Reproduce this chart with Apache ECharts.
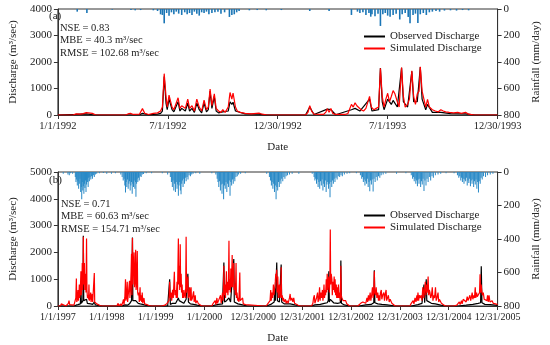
<!DOCTYPE html>
<html>
<head>
<meta charset="utf-8">
<script src="https://cdn.jsdelivr.net/npm/echarts@6/dist/echarts.min.js"></script>
<style>html,body{margin:0;padding:0;background:#fff}#c{width:550px;height:345px}</style>
</head>
<body>
<div id="c"></div>
<script>
// ---------- tick labels ----------
const topTickLabels = ['1/1/1992','7/1/1992','12/30/1992','7/1/1993','12/30/1993'];
const bottomTickLabels = ['1/1/1997','1/1/1998','1/1/1999','1/1/2000','12/31/2000','12/31/2001','12/31/2002','12/31/2003','12/31/2004','12/31/2005'];

// ---------- panel (a): 1992-1993, [day since 1/1/1992, value] ----------
const simA = [[0,0],[25,0],[30,40],[33,70],[37,30],[42,50],[47,90],[50,40],[57,60],[62,10],[70,0],[112,0],[116,40],[120,60],[125,20],[135,30],[140,240],[144,60],[150,20],[158,60],[165,80],[170,150],[173,300],[176,1560],[179,700],[181,300],[184,750],[186,700],[189,300],[192,200],[195,150],[199,650],[202,250],[205,350],[208,300],[211,250],[215,600],[218,250],[222,350],[226,150],[230,600],[234,300],[238,150],[242,560],[246,200],[249,300],[252,980],[255,350],[259,800],[262,250],[266,150],[270,100],[273,200],[277,100],[282,300],[285,850],[288,600],[290,830],[294,300],[297,150],[302,100],[310,60],[320,40],[333,70],[338,30],[345,10],[360,0],
[375,0],[377,30],[380,0],[410,0],[414,100],[417,350],[420,150],[424,30],[440,20],[444,120],[446,240],[449,100],[452,250],[455,60],[460,20],[475,20],[480,50],[486,400],[489,300],[492,460],[495,350],[498,300],[502,200],[506,150],[510,250],[513,200],[516,700],[519,300],[523,200],[527,250],[531,300],[534,1760],[537,700],[540,300],[543,600],[546,820],[549,500],[552,700],[555,920],[558,800],[562,500],[565,300],[569,1790],[572,700],[575,300],[579,400],[582,600],[586,1670],[589,700],[592,400],[595,800],[598,900],[600,1820],[603,900],[606,600],[609,300],[612,590],[615,300],[620,200],[625,150],[630,120],[634,200],[638,150],[642,120],[648,100],[655,80],[662,100],[668,60],[675,100],[680,30],[690,0],[728,0]];
const obsA = [[0,0],[30,20],[47,40],[60,0],[135,10],[140,60],[150,10],[165,30],[170,60],[173,150],[176,1450],[179,450],[181,200],[184,600],[186,550],[189,200],[192,120],[199,500],[202,150],[205,250],[208,200],[211,150],[215,450],[218,150],[222,250],[226,100],[230,450],[234,200],[238,80],[242,450],[246,120],[249,200],[252,900],[255,250],[259,700],[262,150],[266,80],[273,120],[282,150],[285,500],[288,400],[290,480],[294,150],[297,80],[310,40],[333,30],[345,0],
[410,0],[417,300],[424,20],[446,220],[452,200],[460,10],[486,200],[492,250],[500,150],[516,600],[520,150],[531,200],[534,1770],[537,500],[540,200],[546,600],[552,400],[555,550],[562,300],[569,1780],[572,500],[579,300],[586,1650],[589,500],[595,500],[600,1810],[603,600],[609,200],[612,400],[620,100],[634,100],[650,50],[675,40],[690,0],[728,0]];
const rainA = [[32,20],[48,30],[90,5],[121,8],[128,10],[137,8],[158,10],[165,15],[170,40],[173,45],[176,108],[180,30],[184,50],[188,25],[192,40],[196,20],[200,35],[205,45],[210,25],[214,40],[218,30],[222,45],[226,20],[230,35],[234,50],[238,25],[242,30],[246,20],[250,40],[255,30],[260,25],[265,20],[270,35],[276,25],[284,60],[288,45],[292,40],[296,25],[300,15],[317,10],[330,8],[345,10],[370,8],
[417,15],[449,15],[486,45],[496,20],[500,30],[505,25],[510,45],[515,30],[518,58],[520,40],[525,55],[530,35],[534,128],[538,40],[542,30],[546,50],[550,58],[555,45],[560,35],[566,79],[570,40],[575,30],[580,60],[583,108],[588,45],[592,35],[596,106],[600,40],[605,30],[610,45],[615,25],[620,20],[626,15],[632,20],[640,12],[650,10],[660,12],[670,8],[680,10]];

// ---------- panel (b): 1997-2005, [day since 1/1/1997, value] ----------
const simB = [[0,0],[20,0],[25,80],[30,20],[60,0],[78,100],[83,200],[88,50],[100,20],[120,30],[130,80],[134,300],[138,1030],[141,150],[146,300],[150,600],[153,200],[157,400],[160,800],[163,300],[167,500],[172,1300],[175,400],[179,700],[182,1600],[185,600],[188,900],[190,2580],[193,800],[196,1100],[198,1600],[201,600],[204,900],[207,1200],[210,500],[214,2520],[217,600],[221,300],[225,400],[229,250],[232,800],[235,200],[240,300],[245,500],[248,150],[252,300],[256,450],[260,150],[266,200],[272,1230],[275,150],[280,100],[290,80],[300,50],[315,20],[330,0],
[400,0],[410,60],[415,0],[440,0],[450,100],[455,0],[470,80],[475,0],[485,150],[490,250],[494,50],[500,330],[505,1000],[508,200],[512,300],[518,900],[521,150],[525,100],[530,200],[535,940],[538,300],[542,600],[547,1300],[550,1950],[553,400],[557,2540],[560,800],[564,1500],[569,2000],[572,700],[576,900],[581,2100],[584,600],[588,800],[593,2050],[596,500],[600,400],[605,500],[608,150],[614,700],[617,200],[622,400],[626,150],[630,500],[634,100],[638,200],[643,300],[648,80],[655,100],[665,50],[680,20],[700,0],
[760,0],[770,50],[775,0],[800,30],[815,100],[820,30],[830,200],[835,900],[838,300],[845,500],[850,200],[857,600],[862,300],[870,1280],[874,400],[880,600],[884,300],[890,900],[893,300],[900,2520],[903,800],[907,1500],[910,600],[914,2300],[917,700],[921,1200],[924,500],[928,800],[932,300],[936,600],[940,300],[945,400],[950,600],[954,300],[958,2580],[961,500],[966,800],[971,1100],[974,300],[980,400],[984,700],[988,200],[995,700],[998,200],[1005,300],[1014,550],[1018,150],[1026,400],[1030,100],[1040,200],[1050,80],[1060,50],[1075,0],
[1130,0],[1140,50],[1150,0],[1160,100],[1165,30],[1175,200],[1180,50],[1188,300],[1192,100],[1200,200],[1210,150],[1215,400],[1220,100],[1225,300],[1230,500],[1235,200],[1240,1500],[1243,400],[1248,800],[1252,300],[1259,1300],[1262,500],[1266,900],[1270,400],[1274,700],[1278,2430],[1281,600],[1285,1000],[1288,500],[1292,1400],[1295,700],[1298,1000],[1302,1900],[1305,700],[1309,1200],[1314,1600],[1317,600],[1322,800],[1326,400],[1331,1600],[1334,300],[1338,500],[1343,200],[1347,300],[1352,150],[1359,1250],[1362,200],[1368,250],[1375,150],[1380,300],[1385,80],[1395,100],[1402,50],[1415,0],
[1540,0],[1550,60],[1556,0],[1570,100],[1575,30],[1585,200],[1590,600],[1594,200],[1600,500],[1605,300],[1610,800],[1614,400],[1619,600],[1624,900],[1628,1200],[1631,1100],[1635,1350],[1638,500],[1643,1100],[1647,300],[1652,700],[1655,800],[1660,300],[1665,500],[1668,1450],[1671,300],[1676,400],[1680,200],[1685,300],[1690,150],[1700,250],[1705,100],[1712,200],[1720,100],[1730,300],[1735,450],[1740,200],[1748,300],[1755,150],[1762,300],[1768,100],[1775,150],[1782,80],[1795,30],[1810,0],
[1880,0],[1890,50],[1895,0],[1905,100],[1910,300],[1916,400],[1920,100],[1926,200],[1932,300],[1940,500],[1944,150],[1950,300],[1955,700],[1959,200],[1964,500],[1970,300],[1976,600],[1980,200],[1984,400],[1988,800],[1992,300],[1996,600],[2000,400],[2005,1000],[2008,500],[2012,1200],[2016,600],[2020,900],[2024,1100],[2028,500],[2032,1000],[2035,2850],[2038,800],[2042,1200],[2047,1000],[2050,400],[2055,900],[2059,600],[2064,1100],[2068,500],[2071,1000],[2075,400],[2080,800],[2083,300],[2088,700],[2092,300],[2096,800],[2100,300],[2105,500],[2110,200],[2114,1500],[2117,400],[2122,300],[2131,200],[2140,150],[2150,200],[2158,80],[2166,50],[2180,0],
[2240,0],[2250,50],[2262,100],[2270,50],[2278,150],[2285,100],[2292,200],[2300,100],[2309,300],[2314,150],[2320,400],[2325,200],[2333,500],[2338,200],[2344,400],[2350,700],[2355,300],[2360,600],[2364,1300],[2367,500],[2372,400],[2378,700],[2383,300],[2390,500],[2395,200],[2400,400],[2405,200],[2410,500],[2416,600],[2420,250],[2426,400],[2435,500],[2440,200],[2446,450],[2452,600],[2456,200],[2462,300],[2469,400],[2475,150],[2482,250],[2488,200],[2495,100],[2505,50],[2520,0],
[2630,0],[2640,100],[2645,30],[2654,200],[2660,80],[2668,300],[2675,150],[2682,400],[2686,200],[2690,500],[2695,200],[2700,400],[2706,300],[2714,400],[2720,200],[2726,700],[2730,600],[2734,300],[2740,600],[2745,900],[2750,400],[2754,800],[2759,500],[2766,1100],[2770,400],[2775,600],[2780,500],[2785,300],[2791,400],[2797,700],[2802,200],[2808,400],[2814,300],[2821,700],[2826,200],[2832,300],[2840,500],[2845,150],[2850,250],[2857,200],[2865,100],[2880,50],[2895,0],
[2960,0],[2970,60],[2980,30],[2990,100],[2999,150],[3005,50],[3015,200],[3020,80],[3028,250],[3035,200],[3042,300],[3050,150],[3058,350],[3064,200],[3071,300],[3078,400],[3084,200],[3090,350],[3095,500],[3100,250],[3106,400],[3112,300],[3118,700],[3122,300],[3128,500],[3133,350],[3137,400],[3143,300],[3150,500],[3154,1180],[3158,500],[3162,800],[3166,600],[3171,400],[3178,500],[3185,250],[3190,300],[3197,300],[3205,200],[3210,400],[3215,150],[3221,400],[3228,150],[3235,200],[3244,200],[3252,100],[3261,150],[3270,80],[3285,50]];
const obsB = [[0,0],[120,0],[135,30],[140,80],[150,50],[160,100],[168,80],[172,850],[175,100],[182,150],[187,200],[190,2620],[193,200],[200,150],[207,200],[214,250],[220,100],[232,120],[245,80],[260,60],[272,150],[280,40],[300,20],[330,0],
[480,0],[500,40],[520,30],[535,80],[545,120],[550,200],[557,2560],[560,200],[570,250],[581,200],[593,200],[600,100],[615,80],[640,50],[660,20],[700,0],
[820,0],[830,40],[835,1000],[840,60],[857,100],[870,150],[880,100],[900,300],[906,200],[920,150],[940,100],[958,250],[971,1200],[975,150],[990,80],[1014,60],[1040,30],[1075,0],
[1150,0],[1180,40],[1200,60],[1230,80],[1240,1620],[1245,150],[1260,200],[1278,300],[1290,150],[1302,200],[1314,1750],[1318,150],[1331,200],[1345,80],[1359,120],[1380,40],[1415,0],
[1560,0],[1590,60],[1616,150],[1620,650],[1625,200],[1635,1620],[1640,200],[1655,150],[1668,1550],[1672,150],[1690,80],[1735,80],[1770,40],[1810,0],
[1890,0],[1920,40],[1960,60],[1990,100],[2012,120],[2020,200],[2024,1300],[2028,150],[2035,250],[2060,120],[2090,100],[2110,120],[2114,1700],[2118,100],[2140,40],[2180,0],
[2250,0],[2300,40],[2340,60],[2360,120],[2364,1330],[2368,120],[2390,80],[2420,60],[2460,40],[2520,0],
[2640,0],[2690,50],[2720,100],[2735,800],[2740,120],[2752,1000],[2756,200],[2766,200],[2790,100],[2820,80],[2860,30],[2895,0],
[2990,0],[3050,30],[3100,60],[3140,100],[3158,120],[3163,1480],[3168,120],[3190,60],[3230,50],[3285,20]];
const rainB = [[40,10],[75,15],[85,20],[95,8],[110,10],[130,30],[135,60],[140,45],[145,80],[150,55],[155,100],[160,70],[165,40],[170,120],[175,90],[178,162],[182,60],[186,110],[190,85],[194,130],[198,70],[202,95],[206,50],[210,120],[214,75],[218,40],[222,60],[226,90],[230,35],[235,55],[240,30],[246,45],[252,25],[258,40],[265,20],[272,30],[280,15],[290,10],[310,8],[340,6],[365,10],
[400,10],[430,8],[470,15],[480,30],[488,50],[495,40],[500,80],[505,123],[510,60],[515,90],[520,45],[525,100],[530,70],[535,55],[540,110],[545,80],[550,60],[555,130],[560,70],[565,90],[570,50],[575,100],[580,60],[583,148],[588,70],[592,40],[597,60],[602,35],[608,50],[615,25],[622,30],[630,15],[640,12],[660,8],[700,8],
[780,8],[820,15],[840,30],[848,60],[855,90],[860,50],[866,110],[872,70],[878,120],[884,60],[890,100],[895,75],[900,142],[905,80],[910,60],[915,110],[920,133],[925,70],[930,50],[935,90],[940,40],[946,70],[952,35],[958,55],[965,30],[972,45],[980,20],[990,25],[1000,15],[1010,10],[1030,8],[1060,10],
[1150,8],[1180,15],[1190,40],[1196,60],[1202,90],[1208,55],[1214,110],[1220,75],[1226,130],[1232,70],[1238,162],[1244,80],[1250,100],[1256,60],[1262,120],[1268,70],[1274,90],[1280,50],[1286,142],[1292,60],[1298,80],[1304,45],[1310,70],[1316,40],[1322,55],[1330,30],[1340,25],[1350,15],[1365,10],[1400,8],
[1560,10],[1580,30],[1588,50],[1595,80],[1600,60],[1606,100],[1612,70],[1618,120],[1624,80],[1630,162],[1636,90],[1642,110],[1648,60],[1654,90],[1660,50],[1666,70],[1672,40],[1680,55],[1688,30],[1696,40],[1705,25],[1715,20],[1730,15],[1750,10],[1800,10],
[1900,10],[1914,30],[1920,50],[1926,40],[1932,70],[1938,45],[1944,90],[1950,60],[1956,100],[1962,55],[1968,80],[1974,45],[1980,110],[1986,70],[1992,90],[1998,50],[2004,120],[2010,75],[2016,60],[2022,100],[2028,70],[2033,150],[2040,60],[2046,90],[2052,50],[2058,70],[2064,40],[2070,60],[2078,35],[2086,45],[2095,25],[2105,30],[2115,20],[2125,25],[2140,15],[2160,10],[2180,8],
[2230,8],[2260,20],[2270,40],[2276,30],[2282,60],[2288,45],[2294,80],[2300,55],[2306,70],[2312,40],[2318,90],[2324,60],[2330,115],[2336,50],[2342,75],[2348,45],[2355,117],[2362,40],[2370,60],[2378,30],[2386,50],[2395,25],[2405,35],[2415,20],[2430,15],[2450,10],[2530,10],
[2600,8],[2640,20],[2650,40],[2656,30],[2662,55],[2668,40],[2674,70],[2680,50],[2686,85],[2692,45],[2698,70],[2704,40],[2710,90],[2716,55],[2722,75],[2728,40],[2735,113],[2742,50],[2750,80],[2758,40],[2766,60],[2775,30],[2785,50],[2795,25],[2805,35],[2820,20],[2840,15],[2860,10],[2900,8],
[2960,8],[2985,20],[2995,35],[3002,25],[3010,50],[3016,35],[3022,60],[3028,40],[3034,70],[3040,45],[3046,55],[3052,35],[3058,80],[3064,50],[3070,65],[3076,40],[3082,85],[3088,50],[3094,70],[3100,45],[3106,90],[3112,55],[3118,75],[3124,45],[3130,100],[3136,60],[3142,123],[3148,55],[3155,70],[3162,35],[3170,45],[3180,25],[3195,30],[3210,20],[3230,15],[3250,10]];

const statsA = ['NSE = 0.83','MBE = 40.3 m³/sec','RMSE = 102.68 m³/sec'];
const statsB = ['NSE = 0.71','MBE = 60.63 m³/sec','RMSE = 154.71 m³/sec'];

// ---------- chart ----------
const FONT = '"Liberation Serif", "Times New Roman", serif';
const TXT = '#222';
const AX = '#333';

function xAx(grid, max, interval, labels, fs){
  return {
    type:'value', gridIndex:grid, min:0, max:max, interval:interval,
    name:'Date', nameLocation:'middle', nameGap:27,
    nameTextStyle:{fontFamily:FONT,fontSize:11,color:TXT},
    axisLine:{lineStyle:{color:AX}}, axisTick:{length:4,lineStyle:{color:AX}},
    splitLine:{show:false},
    axisLabel:{fontFamily:FONT,fontSize:fs,color:TXT,margin:6,showMinLabel:true,showMaxLabel:true,
      formatter:v=>{const i=Math.round(v/interval);return labels[i]||'';}}
  };
}
function yLeft(grid, max){
  return {
    type:'value', gridIndex:grid, min:0, max:max, interval:1000, position:'left',
    name:'Discharge (m³/sec)', nameLocation:'middle', nameGap:31, nameRotate:90,
    nameTextStyle:{fontFamily:FONT,fontSize:11,color:TXT},
    axisLine:{show:true,lineStyle:{color:AX}}, axisTick:{show:true,length:4,lineStyle:{color:AX}},
    splitLine:{show:false},
    axisLabel:{fontFamily:FONT,fontSize:11,color:TXT,margin:6,formatter:v=>String(v)}
  };
}
function yRight(grid){
  return {
    type:'value', gridIndex:grid, min:0, max:800, interval:200, position:'right', inverse:true,
    name:'Rainfall (mm/day)', nameLocation:'middle', nameGap:33, nameRotate:90,
    nameTextStyle:{fontFamily:FONT,fontSize:11,color:TXT},
    axisLine:{show:true,lineStyle:{color:AX}}, axisTick:{show:true,length:4,lineStyle:{color:AX}},
    splitLine:{show:false},
    axisLabel:{fontFamily:FONT,fontSize:11,color:TXT,margin:6,formatter:v=>String(v)}
  };
}
function legendAt(top){
  return {
    orient:'vertical', left:359, top:top, itemGap:1, itemWidth:21, itemHeight:2, icon:'rect',
    textStyle:{fontFamily:FONT,fontSize:11,color:TXT},
    data:['Observed Discharge','Simulated Discharge']
  };
}
function statText(lines, x, y0, dy){
  return lines.map((t,i)=>({type:'text', x:x, y:y0+i*dy,
    style:{text:t, font:'10.5px '+FONT, fill:TXT, textVerticalAlign:'middle', verticalAlign:'middle'}}));
}

const chart = echarts.init(document.getElementById('c'), null, {renderer:'canvas'});
chart.setOption({
  animation:false,
  backgroundColor:'#fff',
  grid:[
    {left:47, right:43, top:9, height:106, show:true, borderColor:AX, borderWidth:1},
    {left:47, right:43, top:172, height:137, show:true, borderColor:AX, borderWidth:1}
  ],
  xAxis:[xAx(0,728,182,topTickLabels,10.5), xAx(1,3285,365,bottomTickLabels,10)],
  yAxis:[yLeft(0,4000), yRight(0), yLeft(1,5000), yRight(1)],
  legend:[legendAt(26), legendAt(205)],
  graphic:[
    {type:'text', x:49, y:16, style:{text:'(a)', font:'11px '+FONT, fill:TXT, textVerticalAlign:'middle', verticalAlign:'middle'}},
    {type:'text', x:49, y:180, style:{text:'(b)', font:'11px '+FONT, fill:TXT, textVerticalAlign:'middle', verticalAlign:'middle'}},
    ...statText(statsA, 60, 28, 12.5),
    ...statText(statsB, 61, 204, 12.5)
  ],
  series:[
    {name:'Rainfall', type:'bar', xAxisIndex:0, yAxisIndex:1, data:rainA, barWidth:1.6, itemStyle:{color:'#1b76b6'}},
    {name:'Observed Discharge', type:'line', xAxisIndex:0, yAxisIndex:0, data:obsA, symbol:'none', lineStyle:{color:'#000', width:1.2}, itemStyle:{color:'#000'}, z:2},
    {name:'Simulated Discharge', type:'line', xAxisIndex:0, yAxisIndex:0, data:simA, symbol:'none', lineStyle:{color:'#ff0000', width:1.2}, itemStyle:{color:'#ff0000'}, z:3},
    {name:'Rainfall', type:'bar', xAxisIndex:1, yAxisIndex:3, data:rainB, barWidth:1, itemStyle:{color:'#2788c6'}},
    {name:'Observed Discharge', type:'line', xAxisIndex:1, yAxisIndex:2, data:obsB, symbol:'none', lineStyle:{color:'#000', width:1.2}, itemStyle:{color:'#000'}, z:2},
    {name:'Simulated Discharge', type:'line', xAxisIndex:1, yAxisIndex:2, data:simB, symbol:'none', lineStyle:{color:'#ff0000', width:1.2}, itemStyle:{color:'#ff0000'}, z:3}
  ]
});
</script>
</body>
</html>
